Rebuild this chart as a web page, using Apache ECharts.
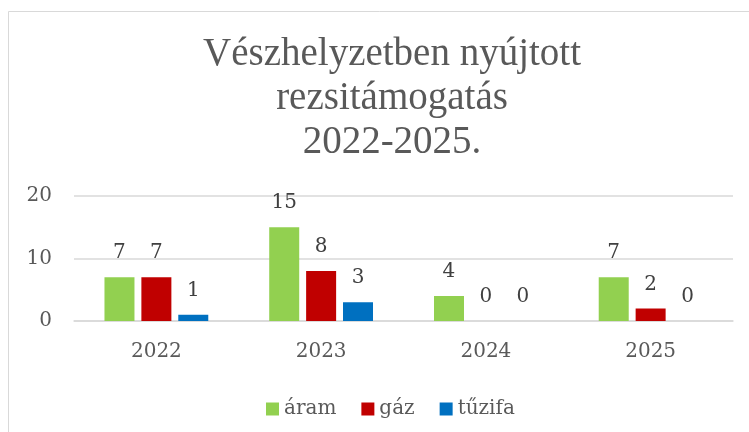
<!DOCTYPE html>
<html>
<head>
<meta charset="utf-8">
<script src="https://cdn.jsdelivr.net/npm/echarts@6/dist/echarts.min.js"></script>
<style>
  html, body { margin: 0; padding: 0; background: #fff; }
  #chart { width: 749px; height: 432px; }
</style>
</head>
<body>
<div id="chart"></div>
<script>
// adatok
var years = ["2022", "2023", "2024", "2025"];
var aram = [7, 15, 4, 7];
var gaz = [7, 8, 0, 2];
var tuzifa = [1, 3, 0, 0];
var yTicks = [0, 10, 20];

var TITLE_FONT = "Liberation Serif";
var FONT = "DejaVu Serif";

function barSeries(name, data, color) {
  return {
    name: name,
    type: "bar",
    data: data,
    barWidth: 30,
    barGap: "23%",
    itemStyle: { color: color },
    label: {
      show: true,
      position: "top",
      distance: 14,
      color: "#404040",
      fontFamily: FONT,
      fontSize: 20
    }
  };
}

var chart = echarts.init(document.getElementById("chart"));
chart.setOption({
  animation: false,
  backgroundColor: "#fff",
  graphic: [
    {
      type: "rect",
      shape: { x: 8.5, y: 11.5, width: 800, height: 500 },
      style: { fill: "none", stroke: "#d9d9d9", lineWidth: 1 },
      silent: true
    }
  ],
  title: {
    text: "Vészhelyzetben nyújtott\nrezsitámogatás\n2022-2025.",
    left: 387,
    top: 28,
    textAlign: "center",
    textStyle: {
      fontFamily: TITLE_FONT,
      fontSize: 39,
      fontWeight: "normal",
      color: "#595959",
      lineHeight: 44
    }
  },
  legend: {
    data: ["áram", "gáz", "tűzifa"],
    left: 261,
    top: 394,
    itemWidth: 13,
    itemHeight: 13,
    itemGap: 25,
    icon: "rect",
    textStyle: { fontFamily: FONT, fontSize: 20, color: "#595959" }
  },
  grid: { left: 74, right: 16, top: 196, bottom: 111, containLabel: false },
  xAxis: {
    type: "category",
    data: years,
    axisLine: { lineStyle: { color: "#d9d9d9", width: 1.5 } },
    axisTick: { show: false },
    axisLabel: { fontFamily: FONT, fontSize: 20, color: "#595959", margin: 21 }
  },
  yAxis: {
    type: "value",
    min: yTicks[0],
    max: yTicks[yTicks.length - 1],
    interval: yTicks[1] - yTicks[0],
    axisLine: { show: false },
    axisTick: { show: false },
    splitLine: { lineStyle: { color: "#d9d9d9", width: 1.5 } },
    axisLabel: { fontFamily: FONT, fontSize: 20, color: "#595959", margin: 22 }
  },
  series: [
    barSeries("áram", aram, "#92d050"),
    barSeries("gáz", gaz, "#c00000"),
    barSeries("tűzifa", tuzifa, "#0070c0")
  ]
});
</script>
</body>
</html>
